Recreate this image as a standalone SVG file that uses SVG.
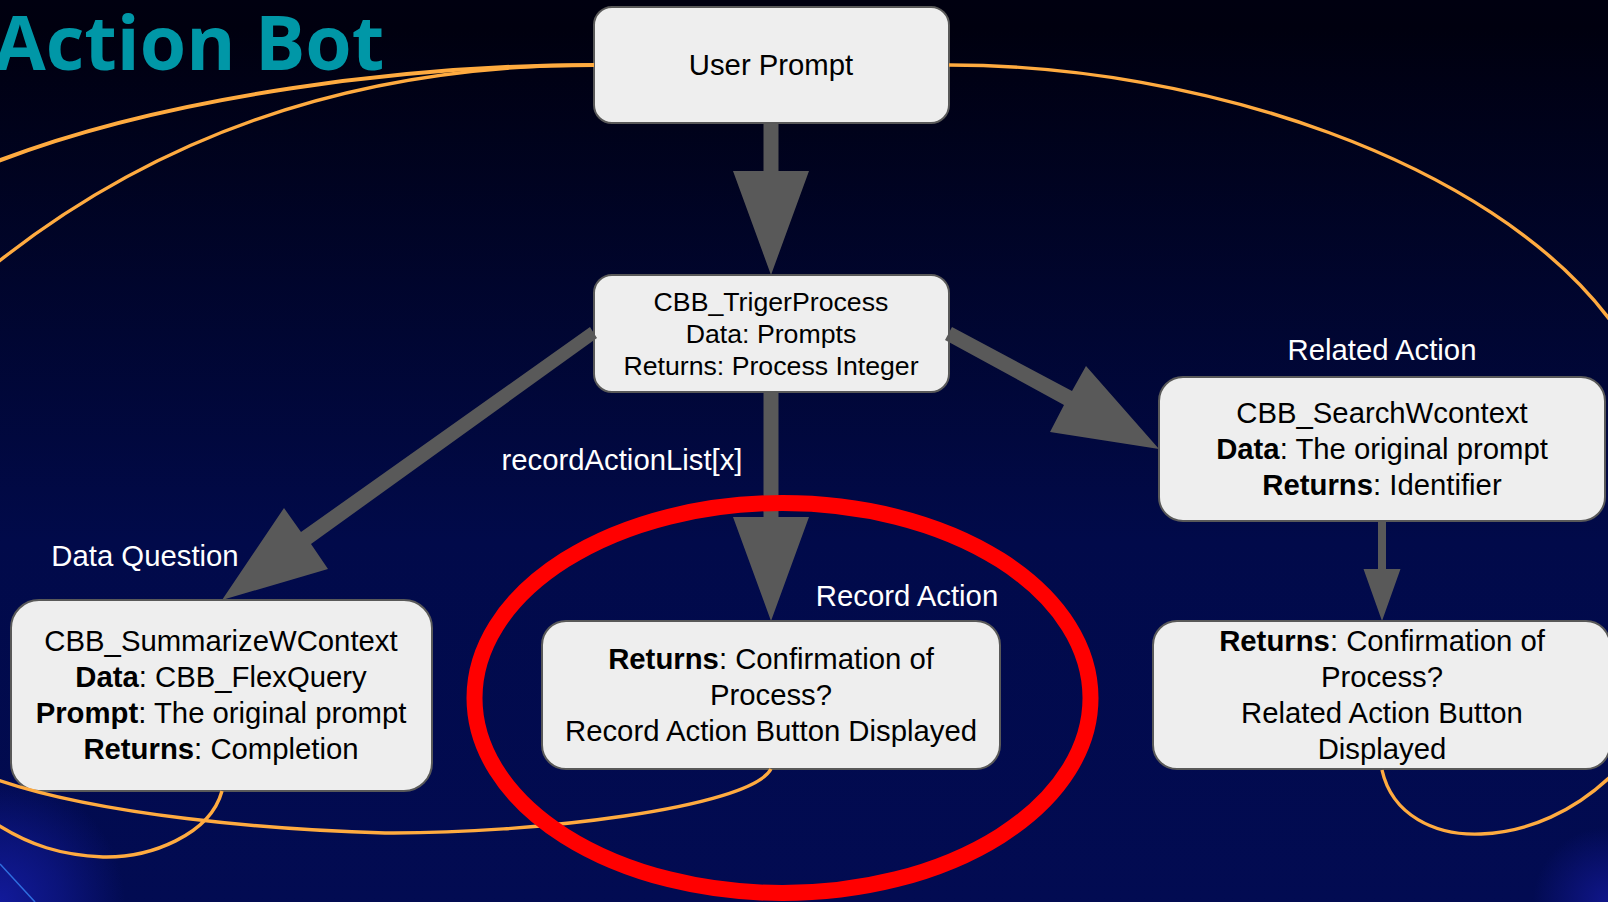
<svg xmlns="http://www.w3.org/2000/svg" width="1608" height="902" viewBox="0 0 1608 902">
<defs>
<linearGradient id="bg" x1="0" y1="0" x2="0" y2="1"><stop offset="0" stop-color="#000010"/><stop offset="0.03" stop-color="#00000f"/><stop offset="0.6" stop-color="#010a4a"/><stop offset="1" stop-color="#020b52"/></linearGradient>
<radialGradient id="gl" gradientUnits="userSpaceOnUse" cx="0" cy="902" r="125"><stop offset="0" stop-color="#121a9a"/><stop offset="0.5" stop-color="#121a9a" stop-opacity="0.55"/><stop offset="1" stop-color="#121a9a" stop-opacity="0"/></radialGradient>
<radialGradient id="gr" gradientUnits="userSpaceOnUse" cx="1608" cy="902" r="75"><stop offset="0" stop-color="#10168a"/><stop offset="1" stop-color="#10168a" stop-opacity="0"/></radialGradient>
</defs>
<style>
.n{fill:#eeeeee;stroke:#595959;stroke-width:2}
text{font-family:"Liberation Sans",Arial,sans-serif;text-anchor:middle}
.t{font-size:29.300px;fill:#000}
.s{font-size:26.700px;fill:#000}
.l{font-size:29.300px;fill:#fff}
.b{font-weight:bold}
.o{fill:none;stroke:#ffab40;stroke-width:3.400}
.a{fill:#595959}
</style>
<rect width="1608" height="902" fill="url(#bg)"/>
<rect width="1608" height="902" fill="url(#gl)"/>
<rect width="1608" height="902" fill="url(#gr)"/>
<path d="M0 864L35 902" stroke="#2f6fe0" stroke-width="1.500" fill="none"/>
<text x="-6" y="70" style="text-anchor:start;font-family:'Open Sans',sans-serif;font-weight:700;font-size:75px;fill:#0097a7">Action Bot</text>
<g id="n-user"><rect class="n" x="594" y="7" width="355" height="116" rx="18"/><text class="t" x="771" y="75">User Prompt</text></g>
<g id="n-trigger"><rect class="n" x="594" y="275" width="355" height="117" rx="18"/><text class="s"><tspan x="771" y="311">CBB_TrigerProcess</tspan><tspan x="771" y="343">Data: Prompts</tspan><tspan x="771" y="375">Returns: Process Integer</tspan></text></g>
<g id="n-search"><rect class="n" x="1159" y="377" width="446" height="144" rx="24"/><text class="t"><tspan x="1382" y="423">CBB_SearchWcontext</tspan><tspan x="1382" y="459"><tspan class="b">Data</tspan>: The original prompt</tspan><tspan x="1382" y="495"><tspan class="b">Returns</tspan>: Identifier</tspan></text></g>
<g id="n-summarize"><rect class="n" x="11" y="600" width="421" height="191" rx="28"/><text class="t"><tspan x="221" y="651">CBB_SummarizeWContext</tspan><tspan x="221" y="687"><tspan class="b">Data</tspan>: CBB_FlexQuery</tspan><tspan x="221" y="723"><tspan class="b">Prompt</tspan>: The original prompt</tspan><tspan x="221" y="759"><tspan class="b">Returns</tspan>: Completion</tspan></text></g>
<g id="n-record"><rect class="n" x="542" y="621" width="458" height="148" rx="24"/><text class="t"><tspan x="771" y="669"><tspan class="b">Returns</tspan>: Confirmation of</tspan><tspan x="771" y="705">Process?</tspan><tspan x="771" y="741">Record Action Button Displayed</tspan></text></g>
<g id="n-confirm"><rect class="n" x="1153" y="621" width="457" height="148" rx="24"/><text class="t"><tspan x="1382" y="651"><tspan class="b">Returns</tspan>: Confirmation of</tspan><tspan x="1382" y="687">Process?</tspan><tspan x="1382" y="723">Related Action Button</tspan><tspan x="1382" y="759">Displayed</tspan></text></g>
<g id="connectors">
<path class="a" d="M763.500 123h15v48h30.500L771 275l-38-104h30.500z"/>
<path class="a" d="M763.500 392h15v125h30.500L771 621l-38-104h30.500z"/>
<path class="a" d="M590 327l7 11L311 544l17 25L222 600l62-92 17 24z"/>
<path class="a" d="M952 327L1072 391l14-25 73 83-109-17 14-27L945 340z"/>
<path class="a" d="M1378 521h8v48h14.500L1382 621l-18.500-52h14.500z"/>
<path class="o" d="M949 65C1200 65 1490 160 1610 320"/>
<path class="o" d="M1382 770C1392 815 1435 836 1481 834C1530 832 1575 810 1610 777"/>
<path class="o" style="stroke-width:4" d="M594 65C410 65 170 95 -2 161"/>
<path class="o" d="M594 65C400 65 190 110 -2 262"/>
<path class="o" d="M222 791C210 835 150 858 103 857C60 855 30 845 -2 825"/>
<path class="o" d="M771 769C750 808 530 834 385 833C270 830 100 815 -2 780"/>
</g>
<text class="l" x="1382" y="360">Related Action</text>
<text class="l" x="145" y="566">Data Question</text>
<text class="l" x="907" y="606">Record Action</text>
<text class="l" x="622" y="470">recordActionList[x]</text>
<ellipse cx="782.500" cy="698" rx="308" ry="195" fill="none" stroke="#ff0000" stroke-width="16"/>
</svg>
